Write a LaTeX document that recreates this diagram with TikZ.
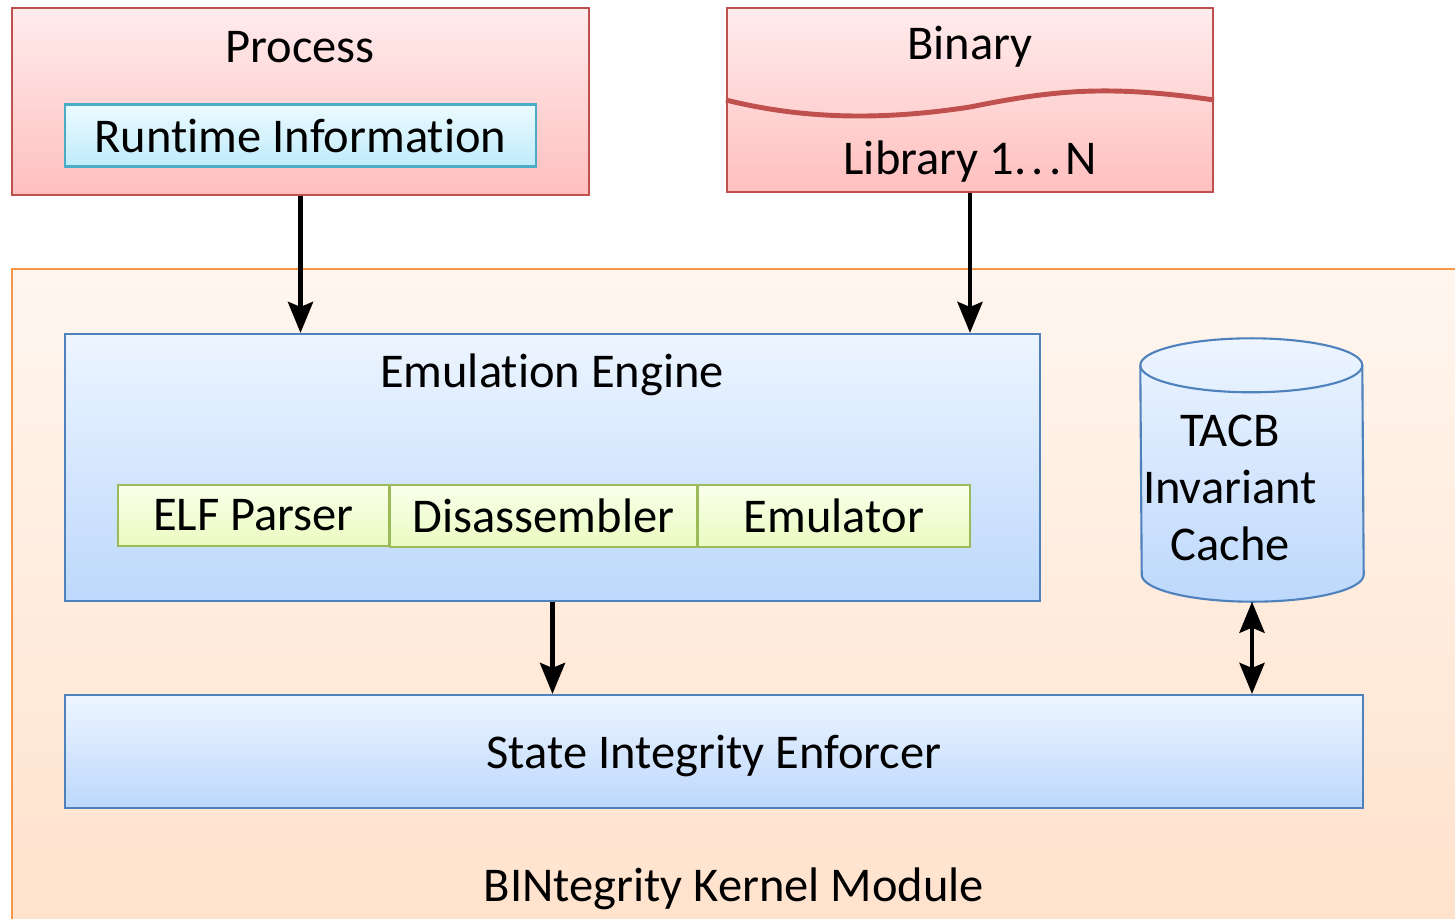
\documentclass[tikz,border=0pt]{standalone}
\usepackage{fontspec}
\setmainfont{Carlito}[Ligatures=NoCommon]
\usetikzlibrary{arrows.meta,calc}

\definecolor{redline}{HTML}{C0504D}
\definecolor{redtop}{HTML}{FFECEC}
\definecolor{redbot}{HTML}{FFBFBF}
\definecolor{cyanline}{HTML}{4BACC6}
\definecolor{cyantop}{HTML}{EBFBFF}
\definecolor{cyanbot}{HTML}{BFEBFB}
\definecolor{orgline}{HTML}{F79646}
\definecolor{orgtop}{HTML}{FFF6EF}
\definecolor{orgbot}{HTML}{FFE2CC}
\definecolor{blueline}{HTML}{4F81BD}
\definecolor{bluetop}{HTML}{EDF5FF}
\definecolor{bluebot}{HTML}{BDD8FC}
\definecolor{grnline}{HTML}{9BBB59}
\definecolor{grntop}{HTML}{F9FFEA}
\definecolor{grnbot}{HTML}{EAFBC0}

\begin{document}
\begin{tikzpicture}[font=\fontsize{13.8}{16.3}\selectfont,
		redbox/.style={draw=redline, line width=0.6pt, top color=redtop, bottom color=redbot, inner sep=0pt},
		cyanbox/.style={draw=cyanline, line width=0.6pt, top color=cyantop, bottom color=cyanbot, inner sep=0pt},
		bluebox/.style={draw=blueline, line width=0.6pt, top color=bluetop, bottom color=bluebot, inner sep=0pt},
		grnbox/.style={draw=grnline, line width=0.6pt, top color=grntop, bottom color=grnbot, inner sep=0pt},
		flow/.style={line width=1.3pt, -{Stealth[length=3.1mm, width=2.5mm, inset=0.5mm]}},
		bothflow/.style={line width=1.3pt, {Stealth[length=3.1mm, width=2.5mm, inset=0.5mm]}-{Stealth[length=3.1mm, width=2.5mm, inset=0.5mm]}}]
	\useasboundingbox (0, 0) rectangle (14.55, -9.18);
	\clip (0, 0) rectangle (14.55, -9.18);

	% kernel module runs off the right and bottom edges
	\node[draw=orgline, line width=0.6pt, top color=orgtop, bottom color=orgbot, inner sep=0pt,
		minimum width=14.6cm, minimum height=6.6cm] at (7.42, -5.99) (kernel) {};
	\node at (7.34, -8.89) (kerneltxt) {BINtegrity Kernel Module};

	% user side
	\node[redbox, minimum width=5.77cm, minimum height=1.87cm] at (3.005, -1.015) (proc) {};
	\node at (3.00, -0.47) (proctxt) {Process};
	\node[cyanbox, minimum width=4.71cm, minimum height=0.62cm] at (3.005, -1.355) (rti) {Runtime Information};

	\node[redbox, minimum width=4.86cm, minimum height=1.84cm] at (9.70, -1.00) (bin) {};
	\draw[redline, line width=1.4pt] (bin.west)
		.. controls ($(bin.west)+(0.8,-0.2)$) and ($(bin.west)+(1.6,-0.2)$) .. ($(bin.center)+(0,-0.07)$)
		.. controls ($(bin.center)+(0.8,0.09)$) and ($(bin.east)+(-1.1,0.16)$) .. (bin.east);
	\node at (9.70, -0.47) (bintxt) {Binary};
	\node at (9.70, -1.62) (libtxt) {Library 1.\kern1.5pt.\kern1.5pt.\kern1pt N};

	% inside the kernel module
	\node[bluebox, minimum width=9.75cm, minimum height=2.67cm] at (5.525, -4.675) (emu) {};
	\node at (5.52, -3.75) (emutxt) {Emulation Engine};
	\node[grnbox, minimum width=2.71cm, minimum height=0.61cm] at (2.535, -5.155) (elf) {ELF Parser};
	\node[grnbox, minimum width=3.07cm, minimum height=0.62cm] at (5.435, -5.16) (dis) {Disassembler};
	\node[grnbox, minimum width=2.72cm, minimum height=0.62cm] at (8.34, -5.16) (emul) {Emulator};

	% invariant cache drum
	\node[minimum width=2.22cm, minimum height=2.62cm, inner sep=0pt] at (12.52, -4.70) (cache) {};
	\draw[blueline, line width=0.6pt, top color=bluetop, bottom color=bluebot]
		($(cache.north west)+(0,-0.27)$) arc[start angle=180, end angle=0, x radius=1.11, y radius=0.27]
		-- ($(cache.south east)+(0,0.27)$) arc[start angle=0, end angle=-180, x radius=1.11, y radius=0.27]
		-- cycle;
	\draw[blueline, line width=0.6pt] ($(cache.north west)+(0,-0.27)$)
		arc[start angle=180, end angle=360, x radius=1.11, y radius=0.27];
	\node[align=center] at (12.30, -4.88) (cachetxt) {TACB\\Invariant\\Cache};

	\node[bluebox, minimum width=12.98cm, minimum height=1.13cm, text depth=0pt] at (7.14, -7.515) (sie) {State Integrity Enforcer};

	\path
	(proc.south) edge[flow] (proc.south |- emu.north)
	(bin.south) edge[flow] (bin.south |- emu.north)
	(emu.south) edge[flow] (emu.south |- sie.north)
	(cache.south) edge[bothflow] (cache.south |- sie.north);
\end{tikzpicture}
\end{document}
